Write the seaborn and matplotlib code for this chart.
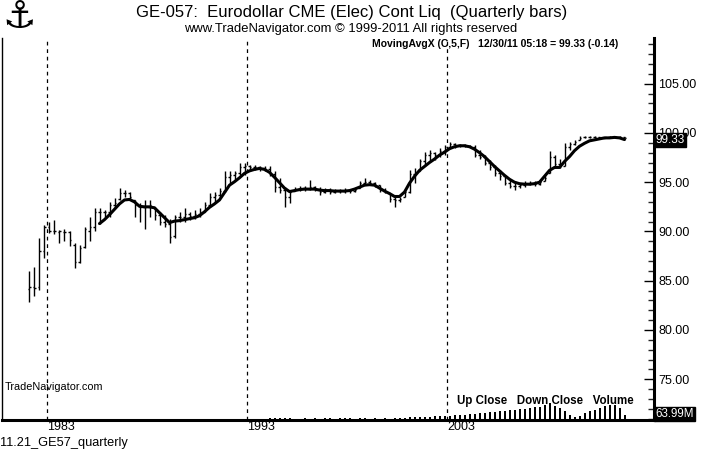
import numpy as np
import pandas as pd
import matplotlib
matplotlib.use("Agg")
import matplotlib.pyplot as plt
import seaborn as sns
from matplotlib.ticker import MultipleLocator, FixedLocator, FuncFormatter

sns.set_theme(style="white")
plt.rcParams["font.family"] = ["Liberation Sans", "DejaVu Sans"]

# ---------------- data (quarterly bars 1982Q1 .. 2011Q4) ----------------
quarters = pd.period_range("1982Q1", "2011Q4", freq="Q")

opens = [84.2, 84.4, 84.4, 88.0, 90.5, 90.0, 89.9, 89.9, 89.9, 88.6,
         86.9, 88.4, 90.0, 90.5, 92.0, 92.0, 92.0, 92.7, 93.3, 93.9,
         93.9, 93.2, 92.7, 92.5, 92.5, 92.5, 91.7, 91.0, 90.8, 89.5,
         91.5, 91.5, 91.8, 91.6, 91.8, 92.0, 92.7, 93.5, 93.7, 94.1,
         95.5, 95.7, 95.9, 96.5, 96.6, 96.5, 96.5, 96.4, 96.3, 95.8,
         94.5, 94.2, 93.5, 94.1, 94.3, 94.4, 94.3, 94.5, 94.3, 94.0,
         94.2, 94.0, 94.1, 94.1, 94.2, 94.1, 94.4, 94.9, 95.0, 94.9,
         94.7, 94.2, 93.9, 93.3, 93.2, 93.5, 94.0, 95.8, 96.1, 97.2,
         97.8, 98.0, 97.8, 98.2, 98.6, 98.9, 98.8, 98.8, 98.7, 98.6,
         97.8, 97.6, 97.0, 96.5, 95.9, 95.6, 94.9, 94.6, 94.6, 94.7,
         94.8, 94.9, 94.8, 95.1, 95.9, 97.6, 96.8, 96.6, 98.6, 98.9,
         99.3, 99.55, 99.6, 99.6, 99.55, 99.5, 99.55, 99.55, 99.6, 99.55]
highs = [86.0, 86.4, 89.3, 90.7, 91.0, 91.2, 90.1, 90.2, 90.0, 88.8,
         88.6, 90.5, 91.5, 92.4, 92.4, 92.2, 93.0, 93.4, 94.4, 94.2,
         94.0, 93.2, 92.9, 93.2, 93.2, 92.5, 92.0, 91.7, 91.3, 91.7,
         92.0, 92.4, 92.0, 92.2, 92.4, 93.0, 93.9, 94.0, 94.4, 96.1,
         96.1, 96.1, 96.9, 96.9, 96.75, 96.75, 96.6, 96.6, 96.6, 96.1,
         95.4, 94.55, 94.2, 94.5, 94.6, 94.6, 95.2, 94.6, 94.55, 94.4,
         94.4, 94.3, 94.3, 94.4, 94.3, 94.3, 95.1, 95.4, 95.2, 95.0,
         94.7, 94.4, 93.9, 93.7, 93.5, 94.2, 96.2, 96.4, 97.4, 98.1,
         98.3, 98.1, 98.45, 98.8, 99.1, 99.0, 98.9, 98.9, 98.8, 98.8,
         98.3, 97.8, 97.3, 96.75, 96.2, 95.6, 95.2, 95.1, 94.9, 95.1,
         95.1, 95.1, 95.2, 95.7, 98.2, 97.8, 97.4, 98.95, 99.1, 99.3,
         99.7, 99.7, 99.7, 99.7, 99.6, 99.6, 99.65, 99.65, 99.65, 99.6]
lows = [82.8, 83.4, 84.1, 87.3, 89.8, 89.7, 88.8, 89.0, 88.5, 86.3,
        86.8, 88.3, 89.0, 90.0, 90.8, 91.5, 91.5, 92.4, 93.2, 93.5,
        93.2, 91.5, 91.0, 90.2, 91.5, 91.2, 90.7, 90.5, 88.8, 89.3,
        91.0, 91.0, 91.2, 91.3, 91.5, 92.0, 92.5, 92.9, 93.4, 94.0,
        94.9, 95.1, 95.7, 95.7, 96.1, 96.2, 96.1, 96.1, 95.6, 94.0,
        93.9, 92.5, 92.9, 94.1, 94.1, 94.1, 94.2, 94.1, 93.7, 93.9,
        93.8, 93.9, 93.9, 93.9, 93.9, 94.0, 94.4, 94.7, 94.7, 94.5,
        94.0, 93.9, 93.0, 92.5, 93.0, 93.5, 93.9, 94.9, 96.1, 96.6,
        97.1, 97.3, 97.6, 97.8, 98.45, 98.45, 98.6, 98.55, 98.55, 97.6,
        97.4, 96.75, 96.2, 95.6, 95.2, 94.7, 94.4, 94.2, 94.4, 94.55,
        94.7, 94.6, 94.7, 95.1, 95.9, 96.4, 96.4, 96.6, 98.3, 98.8,
        99.3, 99.5, 99.45, 99.45, 99.45, 99.5, 99.45, 99.5, 99.5, 99.45]
closes = [84.4, 84.3, 88.0, 90.5, 90.0, 90.0, 90.0, 89.9, 89.1, 86.9,
          88.3, 90.2, 90.5, 92.0, 92.0, 92.0, 92.7, 92.9, 93.9, 93.9,
          93.5, 92.7, 92.5, 92.5, 92.7, 91.7, 91.0, 90.8, 89.4, 91.5,
          91.5, 91.8, 91.6, 91.8, 92.0, 92.7, 93.5, 93.7, 94.1, 95.5,
          95.7, 95.9, 96.5, 96.6, 96.5, 96.5, 96.4, 96.3, 95.8, 94.5,
          94.2, 93.5, 94.0, 94.3, 94.4, 94.3, 94.5, 94.3, 94.0, 94.2,
          94.0, 94.1, 94.1, 94.2, 94.1, 94.2, 94.9, 95.0, 94.9, 94.7,
          94.2, 94.0, 93.3, 93.2, 93.3, 94.0, 95.8, 96.0, 97.2, 97.8,
          98.0, 97.8, 98.2, 98.6, 98.9, 98.8, 98.8, 98.7, 98.6, 97.8,
          97.6, 97.0, 96.5, 95.9, 95.6, 94.9, 94.6, 94.6, 94.7, 94.8,
          94.9, 94.8, 95.0, 95.4, 97.6, 96.8, 96.6, 98.6, 98.9, 99.1,
          99.5, 99.6, 99.6, 99.55, 99.5, 99.55, 99.55, 99.6, 99.55, 99.5]

# MovingAvgX (C,5,F), starting with 1985Q3
ma_start = "1985Q3"
moving_avg = [90.8, 91.2, 91.7, 92.25, 92.8, 93.2, 93.25, 93.0, 92.55, 92.5,
              92.5, 92.4, 91.9, 91.4, 90.9, 91.05, 91.1, 91.2, 91.3, 91.4,
              91.6, 92.0, 92.45, 92.8, 93.2, 93.95, 94.7, 95.05, 95.45, 95.9,
              96.15, 96.3, 96.4, 96.3, 96.0, 95.5, 94.95, 94.4, 94.05, 94.15,
              94.25, 94.3, 94.3, 94.3, 94.2, 94.15, 94.15, 94.1, 94.1, 94.1,
              94.15, 94.3, 94.5, 94.7, 94.75, 94.7, 94.4, 94.1, 93.85, 93.55,
              93.55, 94.0, 94.9, 95.6, 96.2, 96.6, 97.0, 97.35, 97.75, 98.05,
              98.4, 98.6, 98.7, 98.7, 98.6, 98.35, 98.0, 97.6, 97.1, 96.6,
              96.15, 95.7, 95.3, 95.0, 94.85, 94.8, 94.8, 94.85, 95.0, 95.6,
              96.2, 96.5, 96.5, 97.1, 97.6, 98.2, 98.65, 98.95, 99.2, 99.3,
              99.4, 99.5, 99.5, 99.55, 99.5, 99.33]

# volume (millions of contracts) starting with 1994Q1
vol_start = "1994Q1"
volume = [6, 8, 8, 8, 6, 0, 0, 8, 0, 8,
          0, 8, 8, 0, 8, 8, 8, 0, 8, 8,
          0, 8, 0, 8, 0, 8, 9, 9, 11, 11,
          11, 13, 13, 15, 15, 15, 15, 17, 19, 19,
          23, 23, 26, 26, 30, 30, 34, 34, 38, 38,
          41, 41, 45, 49, 49, 56, 64, 53, 45, 34,
          19, 11, 15, 26, 34, 38, 45, 53, 56, 56,
          45, 19]

price_ticks = [75, 80, 85, 90, 95, 100, 105]
year_ticks = [1983, 1993, 2003]

# ---------------- helpers ----------------
W, H = 703, 453
def fx(px):
    return px / W
def fy(py):
    return 1 - py / H

def qpos(periods):
    return np.array([p.year + (p.quarter - 1) * 0.25 + 0.125 for p in periods])

df = pd.DataFrame({"q": quarters, "open": opens, "high": highs,
                   "low": lows, "close": closes})
df["x"] = qpos(df["q"])

ma_q = pd.period_range(ma_start, periods=len(moving_avg), freq="Q")
ma_df = pd.DataFrame({"x": qpos(ma_q), "ma": moving_avg})

v_q = pd.period_range(vol_start, periods=len(volume), freq="Q")
v_df = pd.DataFrame({"x": qpos(v_q), "vol": volume})

# ---------------- figure ----------------
fig = plt.figure(figsize=(W / 100, H / 100), dpi=100)
fig.patch.set_facecolor("white")
ax = fig.add_axes([fx(2), 1 - 420 / H, fx(652), 382 / H])
ax.set_facecolor("white")

ax.set_xlim(1980.75, 2013.35)
ax.set_ylim(70.86, 109.64)

# volume panel (overlay at bottom)
ax2 = ax.twinx()
ax2.set_ylim(0, 64 * 382 / 17)
ax2.bar(v_df["x"], v_df["vol"], width=0.1, color="black", linewidth=0)
ax2.set_yticks([])
for s in ax2.spines.values():
    s.set_visible(False)

# OHLC bars
ax.vlines(df["x"], df["low"], df["high"], color="black", linewidth=1.0)
ax.hlines(df["open"], df["x"] - 0.1, df["x"], color="black", linewidth=1.0)
ax.hlines(df["close"], df["x"], df["x"] + 0.1, color="black", linewidth=1.0)

# moving average
sns.lineplot(data=ma_df, x="x", y="ma", color="black", linewidth=2.2, ax=ax)

# dashed year lines
for yv in year_ticks:
    ax.axvline(yv, color="black", linestyle=(0, (3, 3)), linewidth=0.9)

# axes styling
ax.set_xlabel("")
ax.set_ylabel("")
ax.spines["top"].set_visible(False)
ax.spines["left"].set_linewidth(1.0)
ax.spines["bottom"].set_linewidth(2.2)
ax.spines["right"].set_linewidth(2.2)
for s in ax.spines.values():
    s.set_color("black")

narrow = ["Liberation Sans Narrow", "Liberation Sans", "DejaVu Sans"]

ax.yaxis.tick_right()
ax.yaxis.set_major_locator(FixedLocator(price_ticks))
ax.yaxis.set_minor_locator(MultipleLocator(1.0))
ax.yaxis.set_major_formatter(FuncFormatter(lambda v, p: f"{v:.2f}"))
ax.tick_params(axis="y", which="major", direction="in", length=7, width=1,
               right=True, left=False, pad=3, labelsize=9, colors="black")
ax.tick_params(axis="y", which="minor", direction="in", length=4, width=1,
               right=True, left=False)
for lab in ax.get_yticklabels():
    lab.set_family(narrow)

ax.set_xticks(year_ticks)
ax.set_xticklabels([str(y) for y in year_ticks], ha="left")
ax.tick_params(axis="x", length=0, pad=1, labelsize=9, colors="black")
for lab in ax.get_xticklabels():
    lab.set_family(narrow)
ax.grid(False)
ax2.grid(False)

# ---------------- texts ----------------
fig.text(fx(352), fy(12), "GE-057:  Eurodollar CME (Elec) Cont Liq  (Quarterly bars)",
         ha="center", va="center", fontsize=12, color="black")
fig.text(fx(351), fy(29), "www.TradeNavigator.com \u00a9 1999-2011 All rights reserved",
         ha="center", va="center", fontsize=9.4, color="black", family=narrow)
fig.text(fx(372), fy(44), "MovingAvgX (C,5,F)   12/30/11 05:18 = 99.33 (-0.14)",
         ha="left", va="center", fontsize=7.5, fontweight="bold", color="black",
         family=narrow)
fig.text(fx(19), fy(18), "\u2693", ha="center", va="center", fontsize=27,
         color="black", fontweight="bold", family=["DejaVu Sans"])
fig.text(fx(5), fy(387), "TradeNavigator.com", ha="left", va="center",
         fontsize=7.8, color="black", family=narrow)
fig.text(fx(0), fy(443), "11.21_GE57_quarterly", ha="left", va="center",
         fontsize=9.2, color="black", family=narrow)
fig.text(fx(457), fy(401), "Up Close   Down Close   Volume", ha="left",
         va="center", fontsize=8.3, fontweight="bold", color="black", family=narrow)

fig.text(fx(656), fy(140), "99.33", ha="left", va="center", fontsize=8.5,
         color="white", family=narrow,
         bbox=dict(boxstyle="square,pad=0.1", facecolor="black", edgecolor="black"))
fig.text(fx(655), fy(414), "63.99M", ha="left", va="center", fontsize=8.3,
         color="white", family=narrow,
         bbox=dict(boxstyle="square,pad=0.1", facecolor="black", edgecolor="black"))

fig.savefig("out.png", dpi=100, facecolor="white")
